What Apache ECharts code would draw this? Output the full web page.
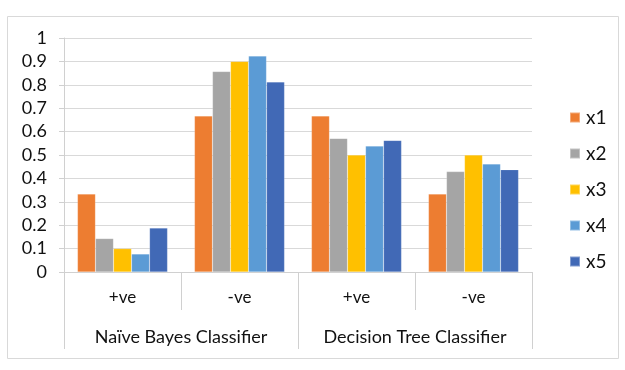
<!DOCTYPE html>
<html><head><meta charset="utf-8">
<script src="https://cdn.jsdelivr.net/npm/echarts@6/dist/echarts.min.js"></script>
<style>html,body{margin:0;padding:0;background:#fff}#c{width:625px;height:370px}</style>
</head><body><div id="c"></div>
<script>
const subCategories = ['+ve', '-ve', '+ve', '-ve'];
const groups = ['Naïve Bayes Classifier', 'Decision Tree Classifier'];
const seriesNames = ['x1', 'x2', 'x3', 'x4', 'x5'];
const x1 = [0.333, 0.667, 0.667, 0.333];
const x2 = [0.143, 0.857, 0.571, 0.429];
const x3 = [0.1, 0.9, 0.5, 0.5];
const x4 = [0.077, 0.923, 0.538, 0.462];
const x5 = [0.188, 0.8125, 0.5625, 0.4375];
const yTicks = { min: 0, max: 1, interval: 0.1 };
const colors = ['#ED7D31', '#A5A5A5', '#FFC000', '#5B9BD5', '#4169B6'];

const font = 'Lato, "Open Sans", sans-serif';
const txt = '#111';
const chart = echarts.init(document.getElementById('c'), null, { renderer: 'canvas' });
const values = [x1, x2, x3, x4, x5];
chart.setOption({
  animation: false,
  color: colors,
  textStyle: { fontFamily: font },
  graphic: [{
    type: 'rect', shape: { x: 7.5, y: 16.5, width: 611, height: 342 },
    style: { fill: 'none', stroke: '#d9d9d9', lineWidth: 1 }, silent: true
  }],
  grid: { left: 64, right: 93, top: 38, bottom: 98 },
  legend: {
    orient: 'vertical', left: 564, top: 103,
    itemWidth: 10, itemHeight: 10, itemGap: 17,
    icon: 'rect',
    textStyle: { fontFamily: font, fontSize: 19, color: txt, padding: [0, 0, 0, 1] },
    data: seriesNames
  },
  xAxis: [{
    type: 'category', data: subCategories, gridIndex: 0,
    axisLine: { lineStyle: { color: '#d0d0d0' } },
    axisTick: { show: true, length: 38, lineStyle: { color: '#d0d0d0' } },
    axisLabel: { margin: 17, fontSize: 17, color: txt, fontFamily: font, interval: 0 }
  }, {
    type: 'category', data: groups, gridIndex: 0, position: 'bottom',
    axisLine: { show: false },
    axisTick: { show: true, length: 77, lineStyle: { color: '#d0d0d0' } },
    axisLabel: { margin: 56, fontSize: 18, color: txt, fontFamily: font, interval: 0, hideOverlap: false }
  }],
  yAxis: {
    type: 'value', min: yTicks.min, max: yTicks.max, interval: yTicks.interval,
    axisLine: { show: true, lineStyle: { color: '#d0d0d0' } },
    axisTick: { show: true, length: 5, lineStyle: { color: '#d0d0d0' } },
    splitLine: { lineStyle: { color: '#d9d9d9' } },
    axisLabel: { margin: 17, fontSize: 18, color: txt, fontFamily: font,
      formatter: v => String(Math.round(v * 10) / 10) }
  },
  series: seriesNames.map((n, i) => ({
    name: n, type: 'bar', xAxisIndex: 0, data: values[i],
    barGap: '0%', barCategoryGap: '23%',
    itemStyle: { borderColor: 'rgba(255,255,255,0.35)', borderWidth: 0.5 }
  }))
});
</script></body></html>
